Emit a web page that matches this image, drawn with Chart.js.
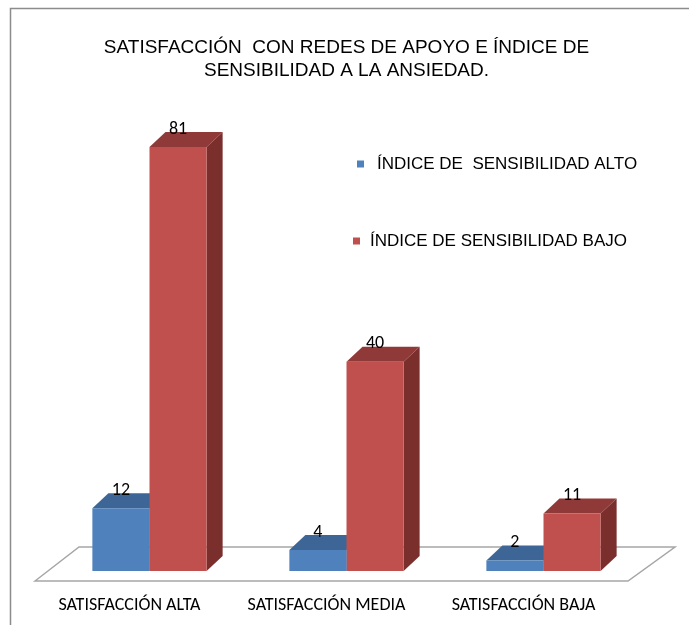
<!DOCTYPE html>
<html>
<head>
<meta charset="utf-8">
<script src="https://cdn.jsdelivr.net/npm/chart.js@4.4.1/dist/chart.umd.min.js"></script>
<style>
  html,body{margin:0;padding:0;background:#fff;overflow:hidden;}
  #wrap{width:689px;height:625px;}
</style>
</head>
<body>
<div id="wrap"><canvas id="ch" width="689" height="625"></canvas></div>
<script>
// data
const categories=['SATISFACCIÓN ALTA','SATISFACCIÓN MEDIA','SATISFACCIÓN BAJA'];
const seriesNames=['ÍNDICE DE  SENSIBILIDAD ALTO','ÍNDICE DE SENSIBILIDAD BAJO'];
const indiceAlto=[12,4,2];
const indiceBajo=[81,40,11];
const titleLines=['SATISFACCIÓN  CON REDES DE APOYO E ÍNDICE DE','SENSIBILIDAD A LA ANSIEDAD.'];

const C={
  blue:{front:'#4F81BD',top:'#3D6696',side:'#385D8A'},
  red:{front:'#C0504D',top:'#8F3A38',side:'#7A2F2D'}
};
const DX=16, DY=15;
const CAL="Carlito, Calibri, 'Liberation Sans', sans-serif";

const threeD={
  id:'threeD',
  beforeDatasetsDraw(chart){
    const {ctx,chartArea:a}=chart;
    const base=chart.scales.y.getPixelForValue(0);
    // floor
    ctx.save();
    ctx.beginPath();
    ctx.moveTo(a.left-16,base+10);
    ctx.lineTo(a.left+28,base-24);
    ctx.lineTo(a.right+33,base-24);
    ctx.lineTo(a.right-14,base+10);
    ctx.closePath();
    ctx.fillStyle='#fff';ctx.fill();
    ctx.strokeStyle='#A6A6A6';ctx.lineWidth=1.5;ctx.stroke();
    // extrusions
    const cols=[C.blue,C.red];
    chart.data.datasets.forEach((ds,di)=>{
      const meta=chart.getDatasetMeta(di);
      meta.data.forEach(bar=>{
        const p=bar.getProps(['x','y','base','width'],true);
        const l=p.x-p.width/2, r=p.x+p.width/2;
        ctx.beginPath();
        ctx.moveTo(l,p.y);ctx.lineTo(r,p.y);ctx.lineTo(r+DX,p.y-DY);ctx.lineTo(l+DX,p.y-DY);ctx.closePath();
        ctx.fillStyle=cols[di].top;ctx.fill();
        ctx.beginPath();
        ctx.moveTo(r,p.y);ctx.lineTo(r+DX,p.y-DY);ctx.lineTo(r+DX,p.base-DY);ctx.lineTo(r,p.base);ctx.closePath();
        ctx.fillStyle=cols[di].side;ctx.fill();
      });
    });
    ctx.restore();
  },
  afterDatasetsDraw(chart){
    const {ctx}=chart;
    ctx.save();
    ctx.font='18px '+CAL;ctx.fillStyle='#000';ctx.textAlign='center';ctx.textBaseline='middle';
    chart.data.datasets.forEach((ds,di)=>{
      chart.getDatasetMeta(di).data.forEach((bar,i)=>{
        ctx.fillText(String(ds.data[i]),bar.x,bar.y-18);
      });
    });
    ctx.restore();
  },
  afterDraw(chart){
    const {ctx}=chart;
    ctx.save();
    // legend
    const items=[{x:357,y:164,tx:377},{x:353,y:241,tx:370}];
    ctx.font="17px 'Liberation Sans', Arial, sans-serif";ctx.textBaseline='middle';ctx.textAlign='left';
    chart.data.datasets.forEach((ds,di)=>{
      const it=items[di];
      ctx.fillStyle=ds.backgroundColor;ctx.fillRect(it.x,it.y-3.5,7,7);
      ctx.fillStyle='#000';ctx.fillText(ds.label,it.tx,it.y);
    });
    // frame (top and left edges; the rest runs off the picture)
    ctx.strokeStyle='#8C8C8C';ctx.lineWidth=1.5;
    ctx.beginPath();
    ctx.moveTo(10.5,625);ctx.lineTo(10.5,8.5);ctx.lineTo(689,8.5);
    ctx.stroke();
    ctx.restore();
  }
};

new Chart(document.getElementById('ch'),{
  type:'bar',
  data:{
    labels:categories,
    datasets:[
      {label:seriesNames[0],data:indiceAlto,backgroundColor:C.blue.front},
      {label:seriesNames[1],data:indiceBajo,backgroundColor:C.red.front}
    ]
  },
  options:{
    responsive:false,animation:false,
    barPercentage:1,categoryPercentage:0.58,
    layout:{padding:{left:51,right:47,top:0,bottom:0}},
    scales:{
      x:{grid:{display:false},border:{display:false},
         afterFit(s){s.height=54;},
         ticks:{color:'#000',padding:16,labelOffset:-20,maxRotation:0,autoSkip:false,
                font:{family:CAL,size:18}}},
      y:{display:false,min:0,max:90}
    },
    plugins:{
      legend:{display:false},
      tooltip:{enabled:false},
      title:{display:true,text:titleLines,color:'#000',padding:{top:36,bottom:18},
             font:{family:"'Liberation Sans', Arial, sans-serif",size:19,weight:'normal',lineHeight:23/19}}
    }
  },
  plugins:[threeD]
});
</script>
</body>
</html>
